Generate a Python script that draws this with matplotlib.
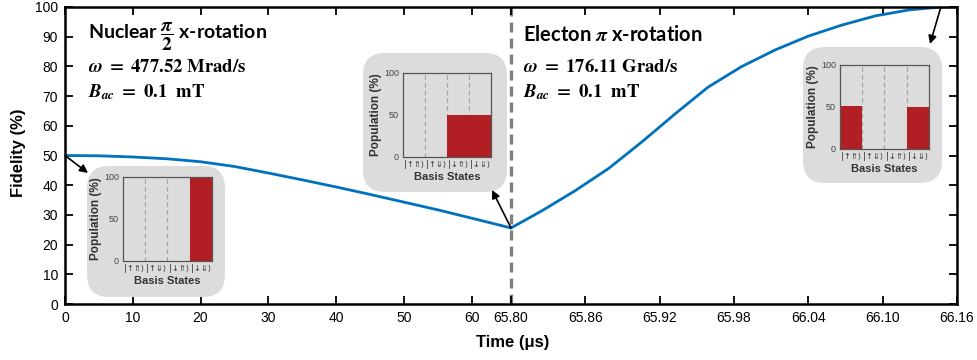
import numpy as np
import matplotlib
matplotlib.use('Agg')
import matplotlib.pyplot as plt
from matplotlib.patches import FancyBboxPatch
from matplotlib.transforms import IdentityTransform

# ---------------- data ----------------
t_left = [0, 5, 10, 15, 20, 25, 30, 35, 40, 45, 50, 55, 60, 65.8]
f_left = [50.0, 49.9, 49.5, 48.9, 47.9, 46.3, 44.1, 41.8, 39.4, 36.9, 34.3, 31.7, 28.9, 25.6]

t_right = [65.800, 65.825, 65.852, 65.879, 65.906, 65.933, 65.959, 65.986, 66.013,
           66.040, 66.067, 66.094, 66.121, 66.147, 66.160]
f_right = [25.6, 31.4, 38.2, 45.7, 54.7, 64.2, 73.0, 79.9, 85.5,
           90.2, 93.9, 97.0, 99.0, 100.0, 100.0]

x_ticks = [0, 10, 20, 30, 40, 50, 60, 65.80, 65.86, 65.92, 65.98, 66.04, 66.10, 66.16]
x_tick_labels = ['0', '10', '20', '30', '40', '50', '60', '65.80', '65.86', '65.92',
                 '65.98', '66.04', '66.10', '66.16']
y_ticks = [0, 10, 20, 30, 40, 50, 60, 70, 80, 90, 100]

states = ['|↑⇑⟩', '|↑⇓⟩', '|↓⇑⟩', '|↓⇓⟩']
pop_start = [0, 0, 0, 100]
pop_mid = [0, 0, 50, 50]
pop_end = [51, 0, 0, 50]

t_break = 65.8
t_end = 66.16

# ---------------- figure ----------------
W, H = 978, 360
plt.rcParams['mathtext.fontset'] = 'stix'
fig = plt.figure(figsize=(W / 100, H / 100), dpi=100)
fig.patch.set_facecolor('white')


def fx(x):
    return x / W


def fy(y):
    return 1 - y / H


def fwd(t):
    t = np.asarray(t, dtype=float)
    return np.where(t <= t_break, t / t_break, 1 + (t - t_break) / (t_end - t_break))


def inv(u):
    u = np.asarray(u, dtype=float)
    return np.where(u <= 1, u * t_break, t_break + (u - 1) * (t_end - t_break))


ax = fig.add_axes([fx(65), fy(304), (957 - 65) / W, (304 - 7) / H])
ax.set_xscale('function', functions=(fwd, inv))

ax.axvline(t_break, color='#808080', ls=(0, (3.0, 1.8)), lw=2.4, zorder=1)
ax.plot(t_left, f_left, color='#0072BD', lw=2.0, zorder=2, solid_capstyle='round')
ax.plot(t_right, f_right, color='#0072BD', lw=2.0, zorder=2, solid_capstyle='round')

ax.set_xlim(0, t_end)
ax.set_ylim(0, 100)
ax.set_xticks(x_ticks)
ax.set_xticklabels(x_tick_labels)
ax.xaxis.set_minor_locator(matplotlib.ticker.NullLocator())
ax.set_yticks(y_ticks)
ax.tick_params(direction='in', top=True, right=True, length=6, width=1.3,
               labelsize=10, pad=5)
for lab in ax.get_xticklabels() + ax.get_yticklabels():
    lab.set_family('Liberation Sans')
for sp in ax.spines.values():
    sp.set_linewidth(1.8)

ax.set_xlabel('Time (μs)', fontsize=12, fontweight='bold', family='Liberation Sans')
ax.xaxis.set_label_coords((513 - 65) / 892, -(343 - 304) / 297)
ax.xaxis.label.set_va('center')
ax.set_ylabel('Fidelity (%)', fontsize=12, fontweight='bold', family='Liberation Sans')
ax.yaxis.set_label_coords(-(65 - 19) / 892, (304 - 153) / 297)
ax.yaxis.label.set_va('center')

# ---------------- titles ----------------
fig.text(fx(88), fy(40), r'Nuclear $\dfrac{\mathbfit{\pi}}{\mathbf{2}}$ x-rotation',
         fontsize=14, fontweight='bold', family='Lato', va='baseline')
fig.text(fx(88), fy(72), r'$\mathbfit{\omega}\ \mathbf{=\ 477.52\ Mrad/s}$',
         fontsize=13.5, va='baseline')
fig.text(fx(88), fy(97), r'$\mathbfit{B}_{\mathbfit{ac}}\ \mathbf{=\ 0.1\ \ mT}$',
         fontsize=13.5, va='baseline')

fig.text(fx(523), fy(41), r'Electon $\mathbfit{\pi}$ x-rotation',
         fontsize=14.5, fontweight='bold', family='Lato', va='baseline')
fig.text(fx(523), fy(72), r'$\mathbfit{\omega}\ \mathbf{=\ 176.11\ Grad/s}$',
         fontsize=13.5, va='baseline')
fig.text(fx(523), fy(97), r'$\mathbfit{B}_{\mathbfit{ac}}\ \mathbf{=\ 0.1\ \ mT}$',
         fontsize=13.5, va='baseline')


# ---------------- insets ----------------
def add_inset(box, inner, pops):
    x0, y0, x1, y1 = box
    p = FancyBboxPatch((x0, H - y1), x1 - x0, y1 - y0,
                       boxstyle='round,pad=0,rounding_size=22',
                       transform=IdentityTransform(), facecolor='#dcdcdc',
                       edgecolor='none', zorder=3)
    ax.add_artist(p)
    l, t, r, b = inner
    ia = fig.add_axes([fx(l), fy(b), (r - l) / W, (b - t) / H])
    ia.set_facecolor('none')
    ia.bar(range(len(states)), pops, width=1.0, color='#b11f24', edgecolor='none', zorder=2)
    ia.set_xlim(-0.5, len(states) - 0.5)
    ia.set_ylim(0, 100)
    ia.set_xticks(range(len(states)))
    ia.set_xticklabels(states, family='DejaVu Sans', fontsize=6, color='#333333')
    ia.set_xticks(np.arange(0.5, len(states) - 0.5, 1.0), minor=True)
    ia.set_yticks([0, 50, 100])
    ia.set_yticklabels(['0', '50', '100'], family='Liberation Sans', fontsize=6.5,
                       color='#444444')
    ia.tick_params(axis='x', which='both', length=0, pad=2)
    ia.tick_params(axis='y', length=0, pad=3)
    ia.grid(axis='x', which='minor', color='#a0a0a0', ls=(0, (4, 3)), lw=0.8)
    ia.set_axisbelow(True)
    for sp in ia.spines.values():
        sp.set_color('#555555')
        sp.set_linewidth(0.9)
    ia.set_xlabel('Basis States', fontsize=8, fontweight='bold',
                  family='Liberation Sans', color='#333333', labelpad=2)
    ia.set_ylabel('Population (%)', fontsize=8.5, fontweight='bold',
                  family='Liberation Sans', color='#333333', labelpad=1)
    return ia


add_inset((87, 166, 225, 297), (123, 177, 212, 261), pop_start)
add_inset((363, 53, 507, 192), (403, 73, 491, 157), pop_mid)
add_inset((803, 47, 942, 183), (840, 65, 929, 149), pop_end)

arrow = dict(arrowstyle='-|>', color='black', lw=1.2, mutation_scale=12,
             shrinkA=0, shrinkB=0)
ax.annotate('', xy=(88, H - 173), xycoords='figure pixels',
            xytext=(t_left[0], f_left[0]), textcoords='data', arrowprops=arrow,
            zorder=4, annotation_clip=False)
ax.annotate('', xy=(492, H - 190), xycoords='figure pixels',
            xytext=(t_left[-1], f_left[-1]), textcoords='data', arrowprops=arrow,
            zorder=4, annotation_clip=False)
ax.annotate('', xy=(930, H - 44), xycoords='figure pixels',
            xytext=(t_right[-2], f_right[-2]), textcoords='data', arrowprops=arrow,
            zorder=4, annotation_clip=False)

fig.savefig('out.png', dpi=100)
